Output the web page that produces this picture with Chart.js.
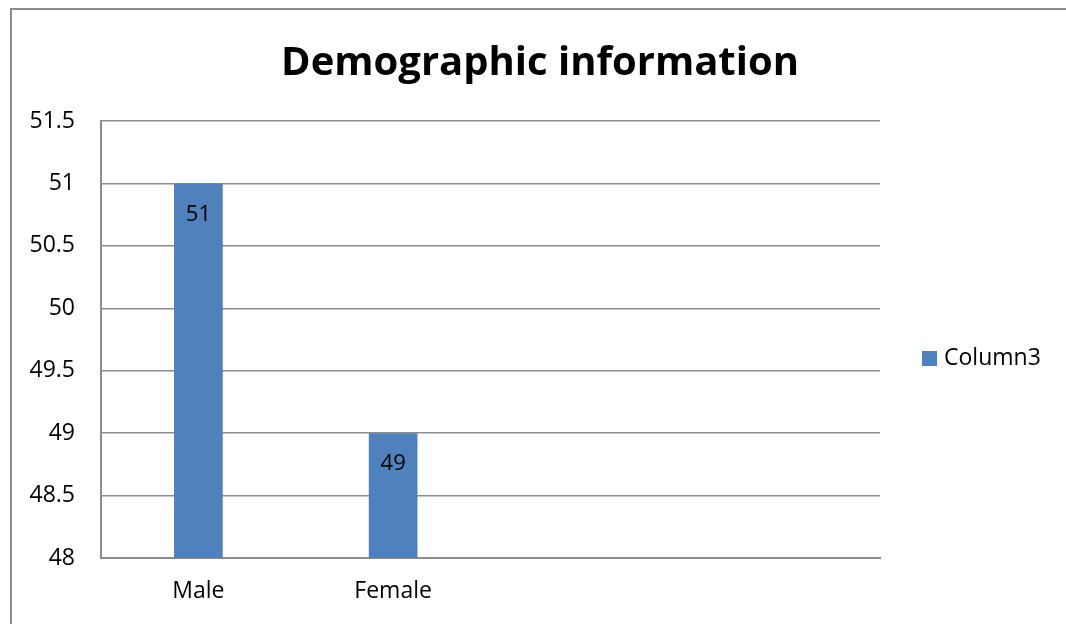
<!DOCTYPE html>
<html>
<head>
<meta charset="utf-8">
<script src="https://cdn.jsdelivr.net/npm/chart.js"></script>
<style>
  html, body { margin: 0; padding: 0; background: #fff; }
  #wrap { width: 1066px; height: 624px; position: relative; }
</style>
</head>
<body>
<div id="wrap"><canvas id="demoChart"></canvas></div>
<script>
// data
const categories = ['Male', 'Female', '', ''];
const column3 = [51, 49, null, null];
const yTicks = [48, 48.5, 49, 49.5, 50, 50.5, 51, 51.5];

const barColor = '#4F81BD';
const gridColor = '#8c8c8c';
const fontFamily = '"Open Sans"';

// frame around the chart (left + top only, rest is cut off)
const framePlugin = {
    id: 'frame',
    beforeDraw(chart) {
        const ctx = chart.ctx;
        ctx.save();
        ctx.strokeStyle = '#8a8a8a';
        ctx.lineWidth = 2;
        ctx.beginPath();
        ctx.moveTo(11, 630);
        ctx.lineTo(11, 9);
        ctx.lineTo(1070, 9);
        ctx.stroke();
        ctx.restore();
    }
};

// value labels inside top of bars
const valueLabels = {
    id: 'valueLabels',
    afterDatasetsDraw(chart) {
        const ctx = chart.ctx;
        const meta = chart.getDatasetMeta(0);
        ctx.save();
        ctx.fillStyle = '#000';
        ctx.font = '22px ' + fontFamily;
        ctx.textAlign = 'center';
        ctx.textBaseline = 'middle';
        meta.data.forEach((bar, i) => {
            const v = chart.data.datasets[0].data[i];
            if (v == null) return;
            ctx.fillText(String(v), bar.x, bar.y + 31);
        });
        ctx.restore();
    }
};

// legend on the right, Excel style
const sideLegend = {
    id: 'sideLegend',
    afterDraw(chart) {
        const ctx = chart.ctx;
        const ds = chart.data.datasets[0];
        ctx.save();
        ctx.fillStyle = ds.backgroundColor;
        ctx.fillRect(922, 351, 15, 15);
        ctx.fillStyle = '#000';
        ctx.font = '23px ' + fontFamily;
        ctx.textAlign = 'left';
        ctx.textBaseline = 'middle';
        ctx.fillText(ds.label, 944, 358);
        ctx.restore();
    }
};

const ctx = document.getElementById('demoChart').getContext('2d');
new Chart(ctx, {
    type: 'bar',
    data: {
        labels: categories,
        datasets: [{
            label: 'Column3',
            data: column3,
            backgroundColor: barColor,
            categoryPercentage: 1,
            barPercentage: 0.25
        }]
    },
    options: {
        responsive: true,
        maintainAspectRatio: false,
        animation: false,
        events: [],
        layout: {
            padding: { left: 14, top: 0, right: 0, bottom: 0 }
        },
        plugins: {
            legend: { display: false },
            tooltip: { enabled: false },
            title: {
                display: true,
                text: 'Demographic information',
                color: '#000',
                font: { family: fontFamily, size: 40, weight: 'bold' },
                padding: { top: 40, bottom: 33 }
            }
        },
        scales: {
            x: {
                grid: { display: false, drawTicks: false },
                border: { display: true, color: gridColor, width: 2 },
                ticks: {
                    color: '#000',
                    font: { family: fontFamily, size: 23 },
                    padding: 20,
                    maxRotation: 0
                },
                afterFit(scale) { scale.height = 66; }
            },
            y: {
                min: 48,
                max: 51.5,
                afterBuildTicks(scale) {
                    scale.ticks = yTicks.map(v => ({ value: v }));
                },
                grid: { color: gridColor, lineWidth: 1.5, drawTicks: false },
                border: { display: true, color: gridColor, width: 2 },
                ticks: {
                    color: '#000',
                    font: { family: fontFamily, size: 23 },
                    padding: 26,
                    callback: v => String(v)
                },
                afterFit(scale) { scale.width = 87; }
            },
            // empty axis on the right, only reserves room for the legend
            side: {
                position: 'right',
                display: true,
                grid: { display: false, drawTicks: false },
                border: { display: false },
                ticks: { display: false },
                afterFit(scale) { scale.width = 186; }
            }
        }
    },
    plugins: [framePlugin, valueLabels, sideLegend]
});
</script>
</body>
</html>
